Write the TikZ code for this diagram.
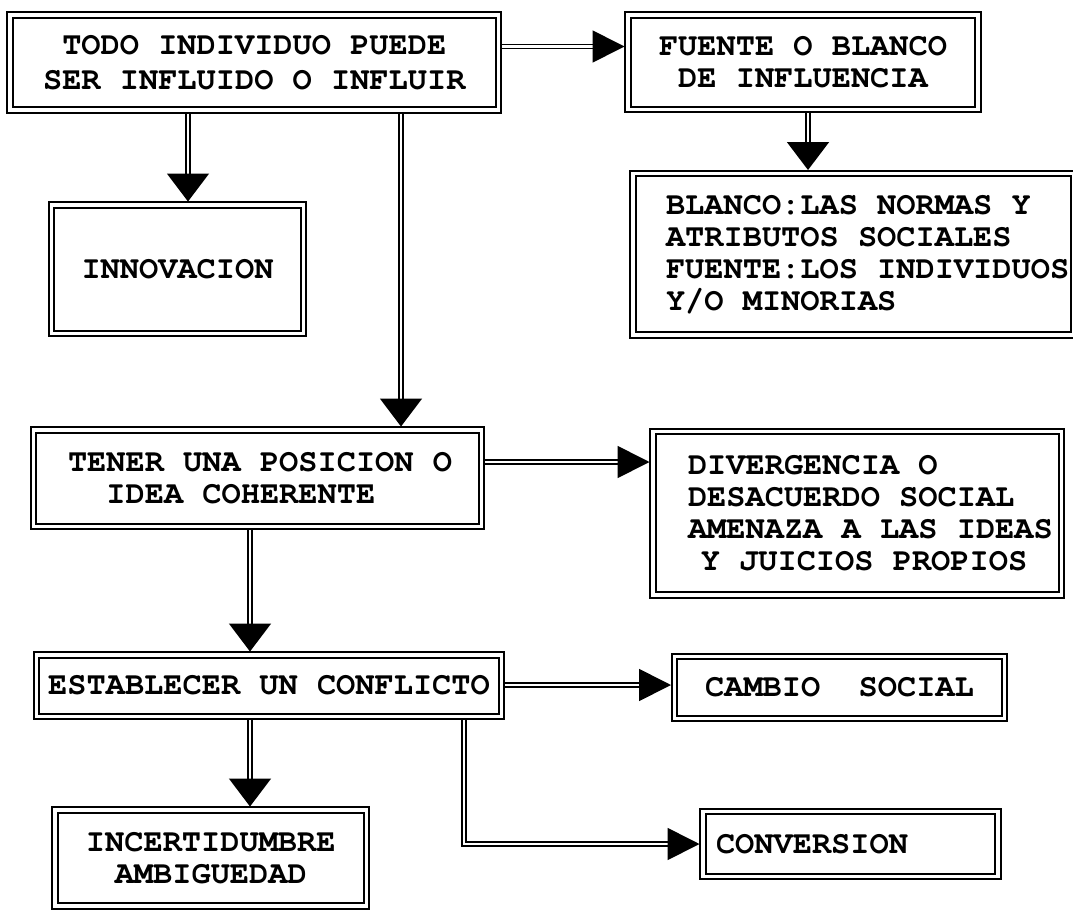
\documentclass[tikz,border=0pt]{standalone}
\usepackage[T1]{fontenc}
\usepackage{courier}
\usepackage{tikz}
\usetikzlibrary{arrows.meta}

\begin{document}
\begin{tikzpicture}[x=1pt, y=-1pt,
    box/.style={draw, double, double distance=3.5pt, line width=1.8pt, outer sep=3.5pt, inner sep=0pt,
                font=\ttfamily\bfseries\fontsize{32}{32}\selectfont},
    conn/.style={double, double distance=2.5pt, line width=1.7pt},
    arrow/.style={conn, -{Triangle[length=28pt, width=42pt]}},
    sidearrow/.style={conn, -{Triangle[length=32pt, width=32pt]}}]

    \useasboundingbox (0,0) rectangle (1073,910);
    \clip (0,0) rectangle (1073,910);

    % Top row
    \node[box, minimum width=488.5pt, minimum height=95pt, align=center,
          font=\ttfamily\bfseries\fontsize{32}{35}\selectfont] (todo) at (254.25,62.5)
        {TODO INDIVIDUO PUEDE\\SER INFLUIDO O INFLUIR};
    \node[box, minimum width=350pt, minimum height=94.5pt, align=center] (fuente) at (803,62.25)
        {FUENTE O BLANCO\\DE INFLUENCIA};

    % Second row
    \node[box, minimum width=252pt, minimum height=128.5pt] (innov) at (177.5,269.25) {INNOVACION};
    \node[box, minimum width=441pt, minimum height=161.5pt, text width=375pt, align=flush left] (blanco) at (853.5,254.25)
        {\mbox{BLANCO:LAS NORMAS Y}\\\mbox{ATRIBUTOS SOCIALES}\\\mbox{FUENTE:LOS INDIVIDUOS}\\\mbox{Y/O MINORIAS}};

    % Third row
    \node[box, minimum width=448pt, minimum height=96.5pt, text width=379pt, align=flush left] (tener) at (257.5,478.25)
        {\mbox{TENER UNA POSICION O}\\\hspace*{1.2em}\mbox{IDEA COHERENTE}};
    \node[box, minimum width=408.5pt, minimum height=163.5pt, text width=338.5pt, align=flush left] (diverg) at (857.25,513.25)
        {\mbox{DIVERGENCIA O}\\\mbox{DESACUERDO SOCIAL}\\\mbox{AMENAZA A LAS IDEAS}\\\hspace*{0.4em}\mbox{Y JUICIOS PROPIOS}};

    % Fourth row
    \node[box, minimum width=465pt, minimum height=61.5pt] (estab) at (269,685.75) {ESTABLECER UN CONFLICTO};
    \node[box, minimum width=330pt, minimum height=62pt] (cambio) at (839.5,687.5) {CAMBIO\ \ SOCIAL};

    % Bottom row
    \node[box, minimum width=311.5pt, minimum height=96pt, align=center] (incert) at (210.75,858)
        {INCERTIDUMBRE\\AMBIGUEDAD};
    \node[box, minimum width=295pt, minimum height=65pt, text width=269pt, align=flush left] (conv) at (850.5,844)
        {CONVERSION};

    % Connectors
    \draw[sidearrow] ([yshift=16pt]todo.east) -- ([yshift=16pt]todo.east -| fuente.west);
    \draw[arrow] (todo.south -| 188,0) -- (innov.north -| 188,0);
    \draw[arrow] (todo.south -| 401,0) -- (tener.north -| 401,0);
    \draw[arrow] (fuente.south -| 808,0) -- (blanco.north -| 808,0);
    \draw[sidearrow] (tener.east |- 0,462) -- (diverg.west |- 0,462);
    \draw[arrow] (tener.south -| 250,0) -- (estab.north -| 250,0);
    \draw[sidearrow] (estab.east |- 0,685) -- (cambio.west |- 0,685);
    \draw[arrow] (estab.south -| 250,0) -- (incert.north -| 250,0);
    \draw[sidearrow] (estab.south -| 464,0) |- (conv.west);

\end{tikzpicture}
\end{document}
